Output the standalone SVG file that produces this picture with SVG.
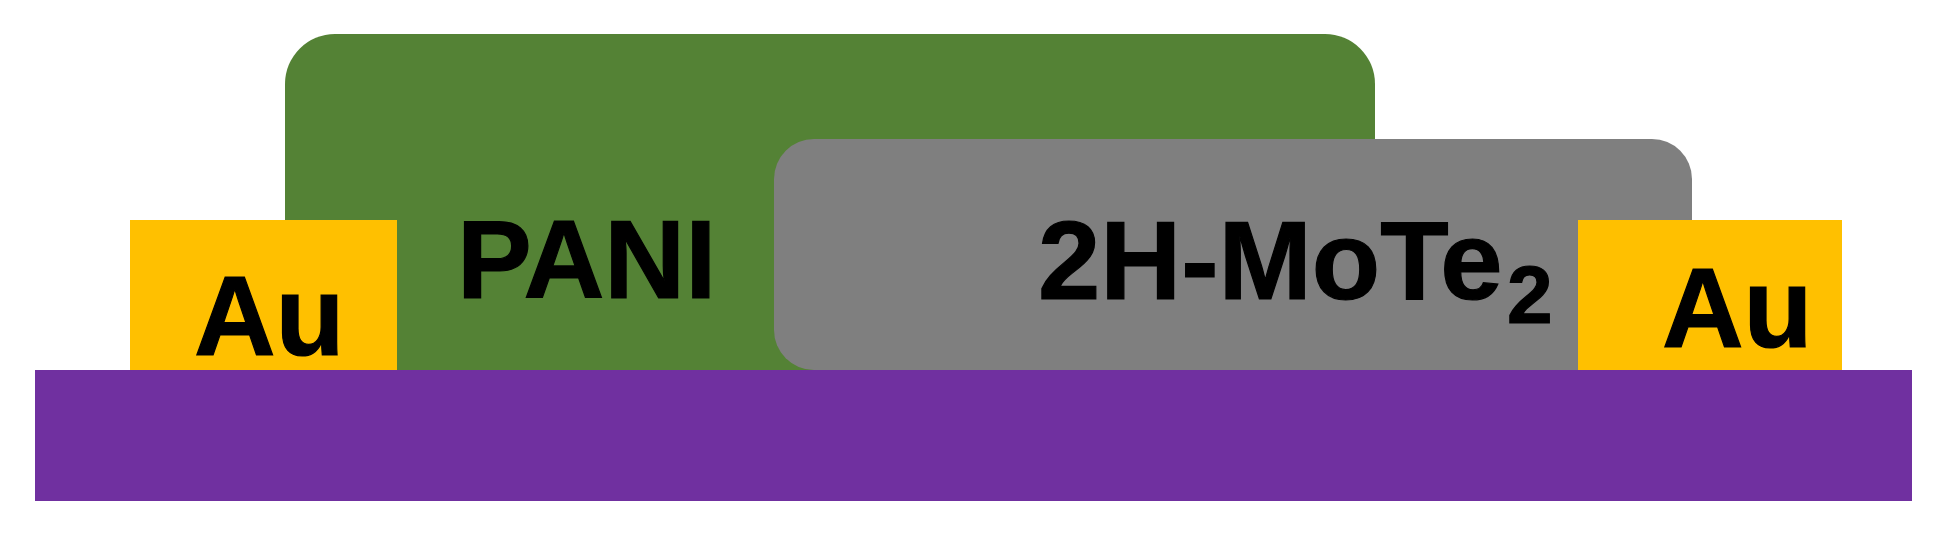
<svg xmlns="http://www.w3.org/2000/svg" width="1946" height="535" viewBox="0 0 1946 535">
  <style>
    .lbl { font-family: "Liberation Sans", Arial, sans-serif; font-weight: bold; fill: #000000; stroke: #000000; stroke-width: 1.2; }
    .au { fill: #FFC000; }
  </style>
  <rect width="1946" height="535" fill="#FFFFFF"/>
  <g id="pani">
    <path d="M285,370 V84 A50,50 0 0 1 335,34 H1325 A50,50 0 0 1 1375,84 V370 Z" fill="#548235"/>
    <text class="lbl" x="457" y="298" font-size="112">PANI</text>
  </g>
  <g id="mote2">
    <rect x="774" y="139" width="918" height="231" rx="40" ry="40" fill="#7F7F7F"/>
    <text class="lbl" x="1038" y="299" font-size="112">2H-MoTe<tspan font-size="82" x="1507" y="323">2</tspan></text>
  </g>
  <g id="au-left">
    <rect class="au" x="130" y="220" width="267" height="150"/>
    <text class="lbl" x="194" y="355" font-size="113">Au</text>
  </g>
  <g id="au-right">
    <rect class="au" x="1578" y="220" width="264" height="150"/>
    <text class="lbl" x="1662" y="347" font-size="113">Au</text>
  </g>
  <g id="substrate">
    <rect x="35" y="370" width="1877" height="131" fill="#7030A0"/>
  </g>
</svg>
